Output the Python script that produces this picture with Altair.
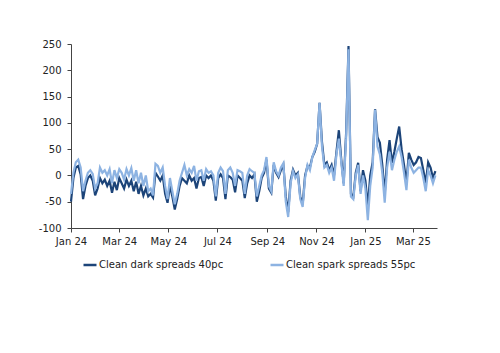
import altair as alt
import pandas as pd

start_date = "2024-01-01"
step_days = 3

dark = [-50, -5, 15, 18, 2, -45, -20, -5, 0, -10,
        -38, -25, -5, -15, -8, -20, -10, -33, -12, -28,
        -5, -15, -25, -8, -20, -10, -30, -12, -35, -20,
        -38, -25, -40, -35, -42, 5, -2, -10, 0, -35,
        -52, -20, -40, -65, -45, -20, -5, -10, -15, 0,
        -10, -5, -25, -5, -3, -20, 0, -5, 0, -10,
        -48, -5, 2, -5, -45, 0, -3, -8, -32, 0,
        -5, -10, -43, -15, 0, -5, 2, -50, -30, -5,
        5, 30, -25, -33, 20, 5, -3, 10, 20, -40,
        -70, -10, 11, 0, 5, -40, -55, 0, 18, 15,
        35, 45, 60, 138, 64, 20, 25, 10, 20, 0,
        45, 86, 30, -15, 80, 246, -35, -40, 5, 24,
        -30, 10, -10, -60, 0, 25, 126, 73, 62, 20,
        -35, 30, 67, 24, 45, 70, 93, 50, 20, -15,
        43, 30, 20, 25, 35, 33, 10, -15, 25, 15,
        -5, 8]

light = [-35, 5, 25, 30, 15, -30, -10, 5, 10, 3,
         -25, -15, 15, 5, 10, 0, 12, -15, 10, -5,
         12, 5, -8, 12, 0, 14, -10, 10, -15, 5,
         -20, 0, -30, -25, -38, 22, 18, 5, 15, -20,
         -45, -5, -30, -55, -35, -10, 5, 20, 0, 12,
         5, 18, -10, 8, 10, -10, 12, 5, 8, 0,
         -40, 5, 15, 8, -35, 10, 15, 5, -20, 10,
         8, 5, -35, 0, 12, 8, 5, -40, -20, 0,
         10, 35, -20, -30, 25, 8, 0, 15, 23, -50,
         -79, -15, 8, -5, 2, -45, -60, -5, 20, 10,
         35, 48, 60, 138, 55, 15, 20, 5, 15, -10,
         40, 70, 25, -20, 70, 240, -40, -45, 0, 20,
         -35, 0, -25, -85, -20, 15, 125, 55, 40, 5,
         -52, 15, 45, 10, 30, 45, 55, 35, 5, -28,
         30, 15, 5, 10, 15, 15, -5, -30, 10, 0,
         -15, 0]

series_names = ["Clean dark spreads 40pc", "Clean spark spreads 55pc"]
series_colors = ["#1C4479", "#8DB3E2"]
tick_months = [(2024, 1), (2024, 3), (2024, 5), (2024, 7), (2024, 9), (2024, 11),
               (2025, 1), (2025, 3)]
y_ticks = [-100, -50, 0, 50, 100, 150, 200, 250]

dates = pd.date_range(start_date, periods=len(dark), freq=f"{step_days}D")
df = pd.concat([
    pd.DataFrame({"date": dates, "value": dark, "series": series_names[0], "order": 0}),
    pd.DataFrame({"date": dates, "value": light, "series": series_names[1], "order": 1}),
])

FONT = "DejaVu Sans"

chart = alt.Chart(df).mark_line(strokeWidth=2.2).encode(
    x=alt.X("date:T",
            scale=alt.Scale(domain=[alt.DateTime(year=2024, month=1, date=1),
                                    alt.DateTime(year=2025, month=3, date=31)]),
            axis=alt.Axis(title=None, format="%b %y",
                          values=[alt.DateTime(year=y, month=m, date=1) for y, m in tick_months],
                          labelOverlap=False, labelFlush=False,
                          grid=False, domainColor="#444", tickColor="#444", tickSize=4,
                          labelColor="#222", labelFontSize=10, labelPadding=4)),
    y=alt.Y("value:Q",
            scale=alt.Scale(domain=[-100, 250], nice=False),
            axis=alt.Axis(title=None, values=y_ticks, labelExpr="'' + datum.value",
                          labelOverlap=False, labelFlush=False,
                          grid=False, domainColor="#444", tickColor="#444", tickSize=4,
                          labelColor="#222", labelFontSize=10, labelPadding=6)),
    color=alt.Color("series:N",
                    scale=alt.Scale(domain=series_names, range=series_colors),
                    legend=alt.Legend(title=None, orient="none", legendX=11, legendY=213,
                                      direction="horizontal", symbolType="stroke",
                                      symbolSize=169, symbolStrokeWidth=2.5,
                                      labelFontSize=10, labelColor="#222", labelOffset=1,
                                      columnPadding=41)),
    order=alt.Order("order:Q"),
    detail="series:N",
).properties(width=366, height=184, autosize=alt.AutoSizeParams(type="none")).configure(
    font=FONT,
    padding={"left": 71, "top": 44, "right": 63, "bottom": 125},
).configure_view(stroke=None)

chart.save("out.html", embed_options={"renderer": "svg", "actions": False})
